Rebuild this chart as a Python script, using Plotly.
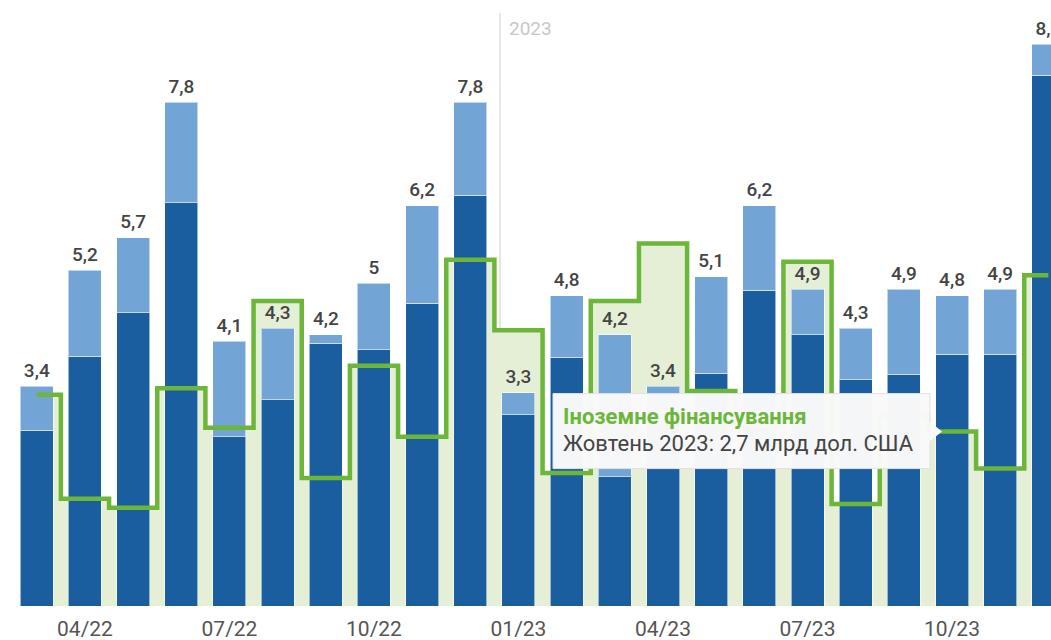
import plotly.graph_objects as go

# ---- data ----
months = ["03/22", "04/22", "05/22", "06/22", "07/22", "08/22", "09/22", "10/22", "11/22", "12/22",
          "01/23", "02/23", "03/23", "04/23", "05/23", "06/23", "07/23", "08/23", "09/23", "10/23",
          "11/23", "12/23"]
totals = [3.4, 5.2, 5.7, 7.8, 4.1, 4.3, 4.2, 5.0, 6.2, 7.8,
          3.3, 4.8, 4.2, 3.4, 5.1, 6.2, 4.9, 4.3, 4.9, 4.8, 4.9, 8.7]
dark_part = [2.72, 3.87, 4.54, 6.24, 2.62, 3.19, 4.07, 3.97, 4.69, 6.36,
             2.96, 3.85, 2.0, 3.0, 3.6, 4.89, 4.2, 3.5, 3.59, 3.9, 3.9, 8.22]
foreign = [3.27, 1.66, 1.52, 3.37, 2.76, 4.72, 1.98, 3.72, 2.62, 5.36,
           4.27, 2.06, 4.72, 5.61, 3.33, 2.8, 5.33, 1.58, 2.95, 2.7, 2.13, 5.12]
tick_labels = ["04/22", "07/22", "10/22", "01/23", "04/23", "07/23", "10/23"]
year_label = "2023"
tooltip_title = "Іноземне фінансування"
tooltip_month = "Жовтень 2023"
tooltip_index = months.index("10/23")

x = list(range(len(months)))
light_part = [round(t - d, 3) for t, d in zip(totals, dark_part)]
labels = [f"{t:.1f}".replace(".", ",").replace(",0", "") for t in totals]

DARK = "#1a5e9f"
LIGHT = "#72a5d6"
GREEN = "#6cb63a"
GREEN_FILL = "#e4efd6"

XR = [-0.764, 21.055]
YR = [0, 9.18]

fig = go.Figure()

# green area (base axes -> drawn behind bars)
fig.add_trace(go.Scatter(x=x, y=foreign, mode="lines", line=dict(shape="hvh", width=0),
                         fill="tozeroy", fillcolor=GREEN_FILL, hoverinfo="skip", showlegend=False,
                         xaxis="x", yaxis="y"))

# bars on overlay axes
fig.add_trace(go.Bar(x=x, y=dark_part, marker=dict(color=DARK, line=dict(color="rgba(255,255,255,0.55)", width=1)),
                     showlegend=False, hoverinfo="skip", xaxis="x2", yaxis="y2"))
fig.add_trace(go.Bar(x=x, y=light_part, marker=dict(color=LIGHT, line=dict(color="rgba(255,255,255,0.55)", width=1)),
                     showlegend=False, hoverinfo="skip", xaxis="x2", yaxis="y2"))

# step line on top
fig.add_trace(go.Scatter(x=x, y=foreign, mode="lines", line=dict(shape="hvh", width=4.5, color=GREEN),
                         hoverinfo="skip", showlegend=False, xaxis="x2", yaxis="y2"))

# total labels
fig.add_trace(go.Scatter(x=x, y=totals, mode="markers+text", text=labels, textposition="top center",
                         marker=dict(size=6, opacity=0),
                         textfont=dict(family="Roboto", size=19, color="#444444", weight=500),
                         cliponaxis=False, hoverinfo="skip", showlegend=False, xaxis="x2", yaxis="y2"))

tick_vals = [months.index(t) for t in tick_labels]
divider_x = months.index("01/23") - 0.384

fig.update_layout(
    width=1051, height=640,
    margin=dict(l=0, r=0, t=13, b=34),
    plot_bgcolor="white", paper_bgcolor="white",
    barmode="stack", bargap=0.315,
    font=dict(family="Roboto"),
    xaxis=dict(range=XR, tickvals=tick_vals, ticktext=tick_labels,
               showgrid=False, zeroline=False, showline=False, ticks="",
               ticklabelstandoff=8,
               tickfont=dict(family="Roboto", size=21, color="#555555")),
    yaxis=dict(range=YR, visible=False, showgrid=False, zeroline=False),
    xaxis2=dict(range=XR, overlaying="x", visible=False, showgrid=False, zeroline=False),
    yaxis2=dict(range=YR, overlaying="y", visible=False, showgrid=False, zeroline=False),
)

# year divider
fig.add_shape(type="line", xref="x", yref="paper", x0=divider_x, x1=divider_x, y0=0, y1=1,
              line=dict(color="#cccccc", width=1), layer="below")
fig.add_annotation(x=divider_x, xref="x", y=1, yref="paper", xanchor="left", yanchor="top",
                   xshift=7, yshift=-2, showarrow=False, text=year_label,
                   font=dict(family="Roboto", size=19, color="#c8c8c8"))

# tooltip (box + pointer + two text lines)
tx, ty = x[tooltip_index], foreign[tooltip_index]
value_txt = f"{ty:.1f}".replace(".", ",")
fig.add_shape(type="rect", xref="x", yref="y", xsizemode="pixel", ysizemode="pixel",
              xanchor=tx, yanchor=ty, x0=-399, x1=-22, y0=-37, y1=38,
              fillcolor="rgba(249,249,249,0.98)", line=dict(color="#e2e2e2", width=1), layer="above")
fig.add_shape(type="path", xref="x", yref="y", xsizemode="pixel", ysizemode="pixel",
              xanchor=tx, yanchor=ty, path="M -22.5,10 L -10,0 L -22.5,-10 Z",
              fillcolor="rgba(249,249,249,1)", line=dict(width=0), layer="above")
fig.add_annotation(x=tx, y=ty, xref="x", yref="y", xanchor="left", yanchor="middle",
                   xshift=-391, yshift=15, showarrow=False,
                   text=f"<b>{tooltip_title}</b>",
                   font=dict(family="Roboto", size=22, color=GREEN))
fig.add_annotation(x=tx, y=ty, xref="x", yref="y", xanchor="left", yanchor="middle",
                   xshift=-391, yshift=-12, showarrow=False,
                   text=f"{tooltip_month}: {value_txt} млрд дол. США",
                   font=dict(family="Roboto", size=22, color="#444444"))

fig.write_html("out.html", config={"displayModeBar": False},
               post_script="document.body.style.margin='0';")
